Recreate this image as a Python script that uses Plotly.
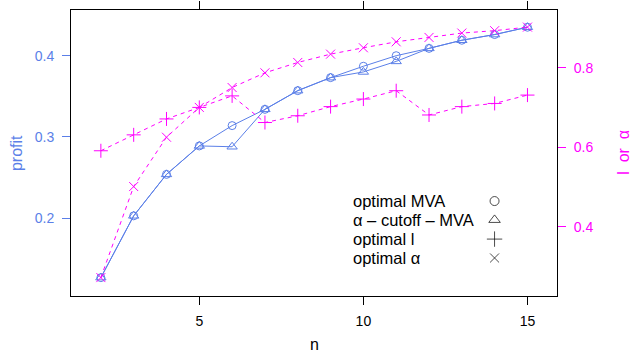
import plotly.graph_objects as go

n = [2, 3, 4, 5, 6, 7, 8, 9, 10, 11, 12, 13, 14, 15]
profit_mva = [0.127, 0.203, 0.254, 0.289, 0.314, 0.334, 0.357, 0.373, 0.387, 0.400, 0.409, 0.419, 0.426, 0.435]
profit_cutoff = [0.127, 0.203, 0.254, 0.289, 0.288, 0.334, 0.357, 0.373, 0.380, 0.393, 0.409, 0.419, 0.426, 0.435]
opt_l = [0.591, 0.631, 0.671, 0.700, 0.729, 0.662, 0.679, 0.702, 0.721, 0.742, 0.681, 0.702, 0.710, 0.731]
opt_alpha = [0.272, 0.501, 0.625, 0.700, 0.750, 0.787, 0.813, 0.834, 0.850, 0.865, 0.876, 0.887, 0.893, 0.902]

x_ticks = [5, 10, 15]
left_ticks = [0.2, 0.3, 0.4]
right_ticks = [0.4, 0.6, 0.8]
legend_labels = ["optimal MVA", "\u03b1 \u2013 cutoff \u2013 MVA", "optimal l", "optimal \u03b1"]
legend_symbols = ["circle-open", "triangle-up-open", "cross-thin-open", "x-thin-open"]

BLUE = "#5B7FE8"
MAG = "#FF00FF"
FONT = "Liberation Sans, Arial, sans-serif"

fig = go.Figure()
fig.add_trace(go.Scatter(x=n, y=profit_mva, mode="lines+markers",
                         line=dict(color=BLUE, width=1),
                         marker=dict(symbol="circle-open", size=8, color=BLUE, line=dict(width=1, color=BLUE))))
fig.add_trace(go.Scatter(x=n, y=profit_cutoff, mode="lines+markers",
                         line=dict(color=BLUE, width=1),
                         marker=dict(symbol="triangle-up-open", size=9, color=BLUE, line=dict(width=1, color=BLUE))))
fig.add_trace(go.Scatter(x=n, y=opt_l, mode="lines+markers", yaxis="y2",
                         line=dict(color=MAG, width=1, dash="4px,4px"),
                         marker=dict(symbol="cross-thin-open", size=10, color=MAG, line=dict(width=1, color=MAG))))
fig.add_trace(go.Scatter(x=n, y=opt_alpha, mode="lines+markers", yaxis="y2",
                         line=dict(color=MAG, width=1, dash="4px,4px"),
                         marker=dict(symbol="x-thin-open", size=9, color=MAG, line=dict(width=1, color=MAG))))

# legend key (drawn on an auxiliary unit axis covering the plot area)
leg_x = 0.8715
leg_ys = [0.332, 0.266, 0.199, 0.133]
fig.add_trace(go.Scatter(x=[leg_x] * 4, y=leg_ys, mode="markers", xaxis="x3", yaxis="y3",
                         marker=dict(symbol=legend_symbols, size=[9, 10, 11, 9], color="black",
                                     line=dict(width=1, color="black"))))

annotations = []
for lab, yy in zip(legend_labels, leg_ys):
    annotations.append(dict(x=0.576, y=yy, xref="paper", yref="paper", text=lab, showarrow=False,
                            xanchor="left", yanchor="middle", font=dict(size=16.5, color="black", family=FONT)))
annotations.append(dict(x=0.5, y=-0.171, xref="paper", yref="paper", text="n", showarrow=False,
                        xanchor="center", yanchor="middle", font=dict(size=16, color="black", family=FONT)))
annotations.append(dict(x=-0.113, y=0.5, xref="paper", yref="paper", text="profit", showarrow=False,
                        textangle=-90, xanchor="center", yanchor="middle", font=dict(size=16, color=BLUE, family=FONT)))
annotations.append(dict(x=1.137, y=0.503, xref="paper", yref="paper", text="l  or  \u03b1", showarrow=False,
                        textangle=-90, xanchor="center", yanchor="middle", font=dict(size=16, color=MAG, family=FONT)))

fig.update_layout(
    template="none",
    width=634, height=358,
    margin=dict(l=71, r=77, t=10, b=62, autoexpand=False),
    paper_bgcolor="white", plot_bgcolor="white",
    showlegend=False,
    hovermode=False,
    font=dict(family=FONT),
    xaxis=dict(range=[1.09, 15.9], tickvals=x_ticks, ticks="outside", ticklen=8, tickcolor="black",
               showline=True, linecolor="black", linewidth=1, mirror="allticks", showgrid=False, zeroline=False,
               tickfont=dict(size=14, color="black"), ticklabelstandoff=4, automargin=False),
    yaxis=dict(range=[0.1044, 0.4562], tickvals=left_ticks, ticks="outside", ticklen=8, tickcolor=BLUE,
               showline=True, linecolor="black", linewidth=1, mirror=True, showgrid=False, zeroline=False,
               tickfont=dict(size=14, color=BLUE), ticklabelstandoff=5, automargin=False),
    yaxis2=dict(range=[0.2257, 0.945], tickvals=right_ticks, ticks="outside", ticklen=8, tickcolor=MAG,
                overlaying="y", side="right", showline=False, showgrid=False, zeroline=False,
                tickfont=dict(size=14, color=MAG), ticklabelstandoff=5, automargin=False),
    xaxis3=dict(range=[0, 1], overlaying="x", visible=False, anchor="y3", automargin=False),
    yaxis3=dict(range=[0, 1], overlaying="y", visible=False, anchor="x3", automargin=False),
    annotations=annotations,
)

fig.write_html("out.html", config={"displayModeBar": False, "staticPlot": True},
               post_script="document.body.style.margin='0';document.body.style.overflow='hidden';")
